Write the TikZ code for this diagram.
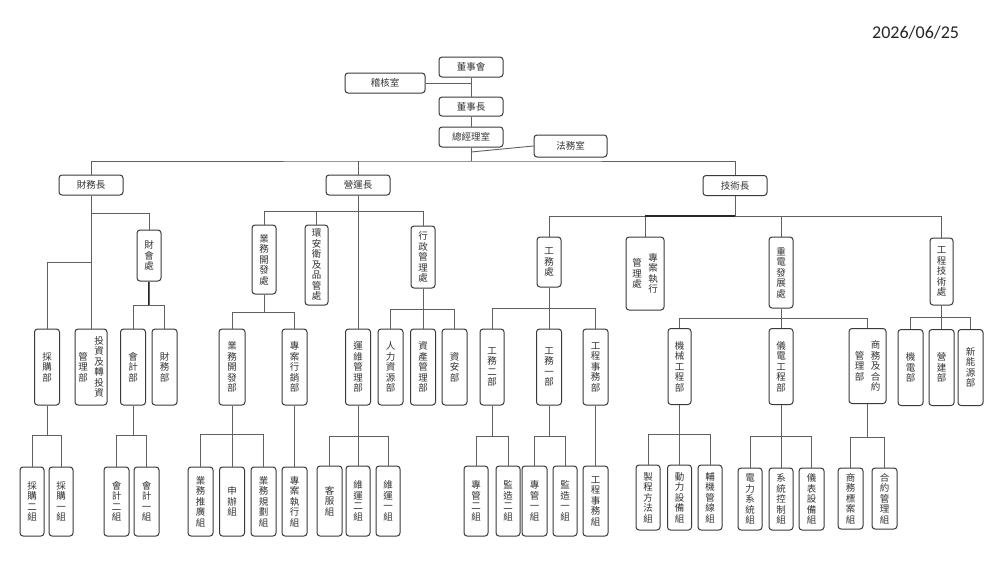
\documentclass[tikz,border=0pt]{standalone}
\usepackage{fontspec}
\newfontfamily\cjk{Noto Sans CJK TC}
\newfontfamily\datefont{Carlito}
\usetikzlibrary{calc}
\definecolor{boxc}{HTML}{3A3A3A}
\definecolor{linec}{HTML}{606060}
\definecolor{txtc}{HTML}{333333}
\newcommand\twocol[2]{\parbox[c]{10pt}{\centering #1}\hspace{6pt}\parbox[c]{10pt}{\centering #2}}
\newcommand\tbus[3]{%
  \coordinate (tmpP) at (#1.south |- 0,#2);
  \draw[conn] (#1.south) -- (tmpP);
  \foreach \cc in {#3} {\draw[conn] (tmpP) -| (\cc.north);}
}
\tikzset{
  orgbox/.style={draw=boxc, line width=1pt, rounded corners=3pt, fill=white, inner sep=0pt,
    font=\fontsize{9.5}{10.5}\selectfont\cjk, text=txtc, align=center},
  orgh/.style={orgbox, minimum width=64pt, minimum height=20pt},
  orgv/.style={orgbox, minimum width=25pt, minimum height=76pt},
  conn/.style={draw=linec, line width=0.9pt},
  heavyconn/.style={draw=black!85, line width=1.4pt},
}
\begin{document}
\begin{tikzpicture}[x=1pt,y=-1pt]
\useasboundingbox (0,0) rectangle (1000,563);
\fill[white] (0,0) rectangle (1000,563);

\node[font=\fontsize{18}{20}\selectfont\datefont, text=black!85, anchor=west, inner sep=0pt] (date) at (872,33) {2026/06/25};

% top
\node[orgh] (dsh) at (471,67) {董事會};
\node[orgh, minimum width=80pt] (jhs) at (385,83) {稽核室};
\node[orgh, minimum height=19pt] (dsz) at (471,106.5) {董事長};
\node[orgh] (zjl) at (471,137) {總經理室};
\node[orgh, minimum width=73pt, minimum height=22pt] (fws) at (570.5,146) {法務室};
\node[orgh] (cwz) at (91,185) {財務長};
\node[orgh] (yyz) at (358,185) {營運長};
\node[orgh] (jsz) at (735,185.5) {技術長};

% row 2
\node[orgv, minimum width=24pt, minimum height=51pt] (chc) at (149,255.5) {財\\會\\處};
\node[orgv, minimum width=24pt, minimum height=69pt] (ywkf) at (264,259.5) {業\\務\\開\\發\\處};
\node[orgv, minimum width=23pt, minimum height=80pt] (hab) at (316.5,265) {環\\安\\衛\\及\\品\\管\\處};
\node[orgv, minimum width=24pt, minimum height=62pt] (xzgl) at (423,257) {行\\政\\管\\理\\處};
\node[orgv, minimum width=24pt, minimum height=50pt] (gwc) at (549,262) {工\\務\\處};
\node[orgv, minimum width=38pt, minimum height=73pt] (zazxgl) at (645,273.5) {\twocol{管\\理\\處}{專\\案\\執\\行}};
\node[orgv, minimum width=24pt, minimum height=71pt] (zdfz) at (781,272.5) {重\\電\\發\\展\\處};
\node[orgv, minimum width=23pt, minimum height=67pt] (gcjs) at (941.5,271.5) {工\\程\\技\\術\\處};

% row 3
\node[orgv] (cgb) at (47,367) {採\\購\\部};
\node[orgv, minimum width=32pt] (tzgl) at (91,367) {\twocol{管\\理\\部}{投\\資\\及\\轉\\投\\資}};
\node[orgv] (kjb) at (133,367) {會\\計\\部};
\node[orgv] (cwb) at (164.5,367) {財\\務\\部};
\node[orgv, minimum width=26pt] (ywkfb) at (232,367) {業\\務\\開\\發\\部};
\node[orgv] (zaxx) at (294.5,367) {專\\案\\行\\銷\\部};
\node[orgv] (ywgl) at (358,367) {運\\維\\管\\理\\部};
\node[orgv] (rlzy) at (390.5,367) {人\\力\\資\\源\\部};
\node[orgv] (zcgl) at (423,367) {資\\產\\管\\理\\部};
\node[orgv] (zab) at (454.5,367) {資\\安\\部};
\node[orgv, minimum width=24pt] (gw2) at (492,367) {工\\務\\二\\部};
\node[orgv] (gw1) at (549,367) {工\\務\\一\\部};
\node[orgv] (gcsw) at (595.5,367) {工\\程\\事\\務\\部};
\node[orgv, minimum width=23pt] (jxgc) at (679.5,366.5) {機\\械\\工\\程\\部};
\node[orgv, minimum width=24pt] (ydgc) at (781,366.5) {儀\\電\\工\\程\\部};
\node[orgv, minimum width=37pt, minimum height=75pt] (swhy) at (867.5,366) {\twocol{管\\理\\部}{商\\務\\及\\合\\約}};
\node[orgv] (jdb) at (910.5,367.5) {機\\電\\部};
\node[orgv] (yjb) at (941.5,367.5) {營\\建\\部};
\node[orgv] (xnyb) at (970.5,367.5) {新\\能\\源\\部};

% row 4
\tikzset{rowA/.style={orgv, minimum width=24pt, minimum height=69pt}}
\node[rowA] (cg2) at (32,501.5) {採\\購\\二\\組};
\node[rowA] (cg1) at (61,501.5) {採\\購\\一\\組};
\node[rowA, minimum width=25pt] (kj2) at (116.5,501.5) {會\\計\\二\\組};
\node[rowA, minimum width=25pt] (kj1) at (146.5,501.5) {會\\計\\一\\組};
\node[rowA, minimum width=25pt] (ywtg) at (200.5,501.5) {業\\務\\推\\廣\\組};
\node[rowA, minimum width=25pt] (sbz) at (232,501.5) {申\\辦\\組};
\node[rowA, minimum width=25pt] (ywgh) at (263.5,501.5) {業\\務\\規\\劃\\組};
\node[rowA, minimum width=25pt] (zazx) at (294.5,501.5) {專\\案\\執\\行\\組};
\tikzset{rowB/.style={orgv, minimum width=24pt, minimum height=70pt}}
\node[rowB, minimum width=25pt] (kfz) at (329.5,501) {客\\服\\組};
\node[rowB] (ww2) at (358,501) {維\\運\\二\\組};
\node[rowB] (ww1) at (388,501) {維\\運\\一\\組};
\node[rowB] (zg2) at (476,501) {專\\管\\二\\組};
\node[rowB] (jz2) at (508,501) {監\\造\\二\\組};
\node[rowB, minimum width=25pt] (zg1) at (534.5,501) {專\\管\\一\\組};
\node[rowB] (jz1) at (565,501) {監\\造\\一\\組};
\node[rowB, minimum width=25pt] (gcswz) at (595.5,501) {工\\程\\事\\務\\組};
\tikzset{rowC/.style={orgv, minimum width=24pt, minimum height=65pt}}
\node[rowC] (zcff) at (648,497.5) {製\\程\\方\\法\\組};
\node[rowC] (dlsb) at (679.5,497.5) {動\\力\\設\\備\\組};
\node[rowC] (fjgx) at (710,497.5) {輔\\機\\管\\線\\組};
\tikzset{rowD/.style={orgv, minimum width=24pt, minimum height=62pt}}
\node[rowD] (dlxt) at (750,499) {電\\力\\系\\統\\組};
\node[rowD] (xtkz) at (781,499) {系\\統\\控\\制\\組};
\node[rowD, minimum width=25pt] (ybsb) at (811.5,499) {儀\\表\\設\\備\\組};
\node[rowD, minimum width=25pt, minimum height=61pt] (swba) at (850.5,498.5) {商\\務\\標\\案\\組};
\node[rowD, minimum width=25pt, minimum height=61pt] (hygl) at (884.5,498.5) {合\\約\\管\\理\\組};

% connectors, top
\coordinate (L0) at (471,161);
\coordinate (fwj) at (471,152);
\draw[conn] (dsh.south) -- (dsz.north);
\draw[conn] (jhs.east) -- (jhs.east -| dsh.south);
\draw[conn] (dsz.south) -- (zjl.north);
\draw[conn] (zjl.south) -- (L0);
\draw[conn] (fws.west) -- (fwj);
\draw[conn] (cwz.north) |- (L0) -| (jsz.north);
\draw[conn] (yyz.north) -- (yyz.north |- L0);

% finance
\draw[conn] (cwz.south) -- (tzgl.north);
\draw[conn] (cwz.south |- 0,213) -| (chc.north);
\draw[conn] (cwz.south |- 0,262) -| (cgb.north);
\draw[heavyconn] (chc.south) -- (chc.south |- 0,305);
\tbus{chc}{305}{kjb,cwb}
\tbus{cgb}{435}{cg2,cg1}
\tbus{kjb}{435}{kj2,kj1}

% operations
\tbus{yyz}{211}{ywkf,hab,xzgl,ywgl}
\tbus{ywkf}{312}{ywkfb,zaxx}
\tbus{xzgl}{309}{rlzy,zcgl,zab}
\tbus{ywkfb}{434}{ywtg,sbz,ywgh}
\tbus{zaxx}{434}{zazx}
\tbus{ywgl}{436}{kfz,ww2,ww1}

% technology
\tbus{jsz}{216}{gwc,zazxgl,zdfz,gcjs}
\draw[heavyconn] (zazxgl.north |- 0,216) -- (jsz.south |- 0,216);
\tbus{gwc}{308}{gw2,gw1,gcsw}
\tbus{zdfz}{318.5}{jxgc,ydgc,swhy}
\draw[heavyconn] (gcjs.south) -- (gcjs.south |- 0,317);
\tbus{gcjs}{317}{jdb,yjb,xnyb}
\tbus{gw2}{436}{zg2,jz2}
\tbus{gw1}{436}{zg1,jz1}
\tbus{gcsw}{436}{gcswz}
\tbus{jxgc}{434}{zcff,dlsb,fjgx}
\tbus{ydgc}{436}{dlxt,xtkz,ybsb}
\tbus{swhy}{437}{swba,hygl}
\end{tikzpicture}
\end{document}
